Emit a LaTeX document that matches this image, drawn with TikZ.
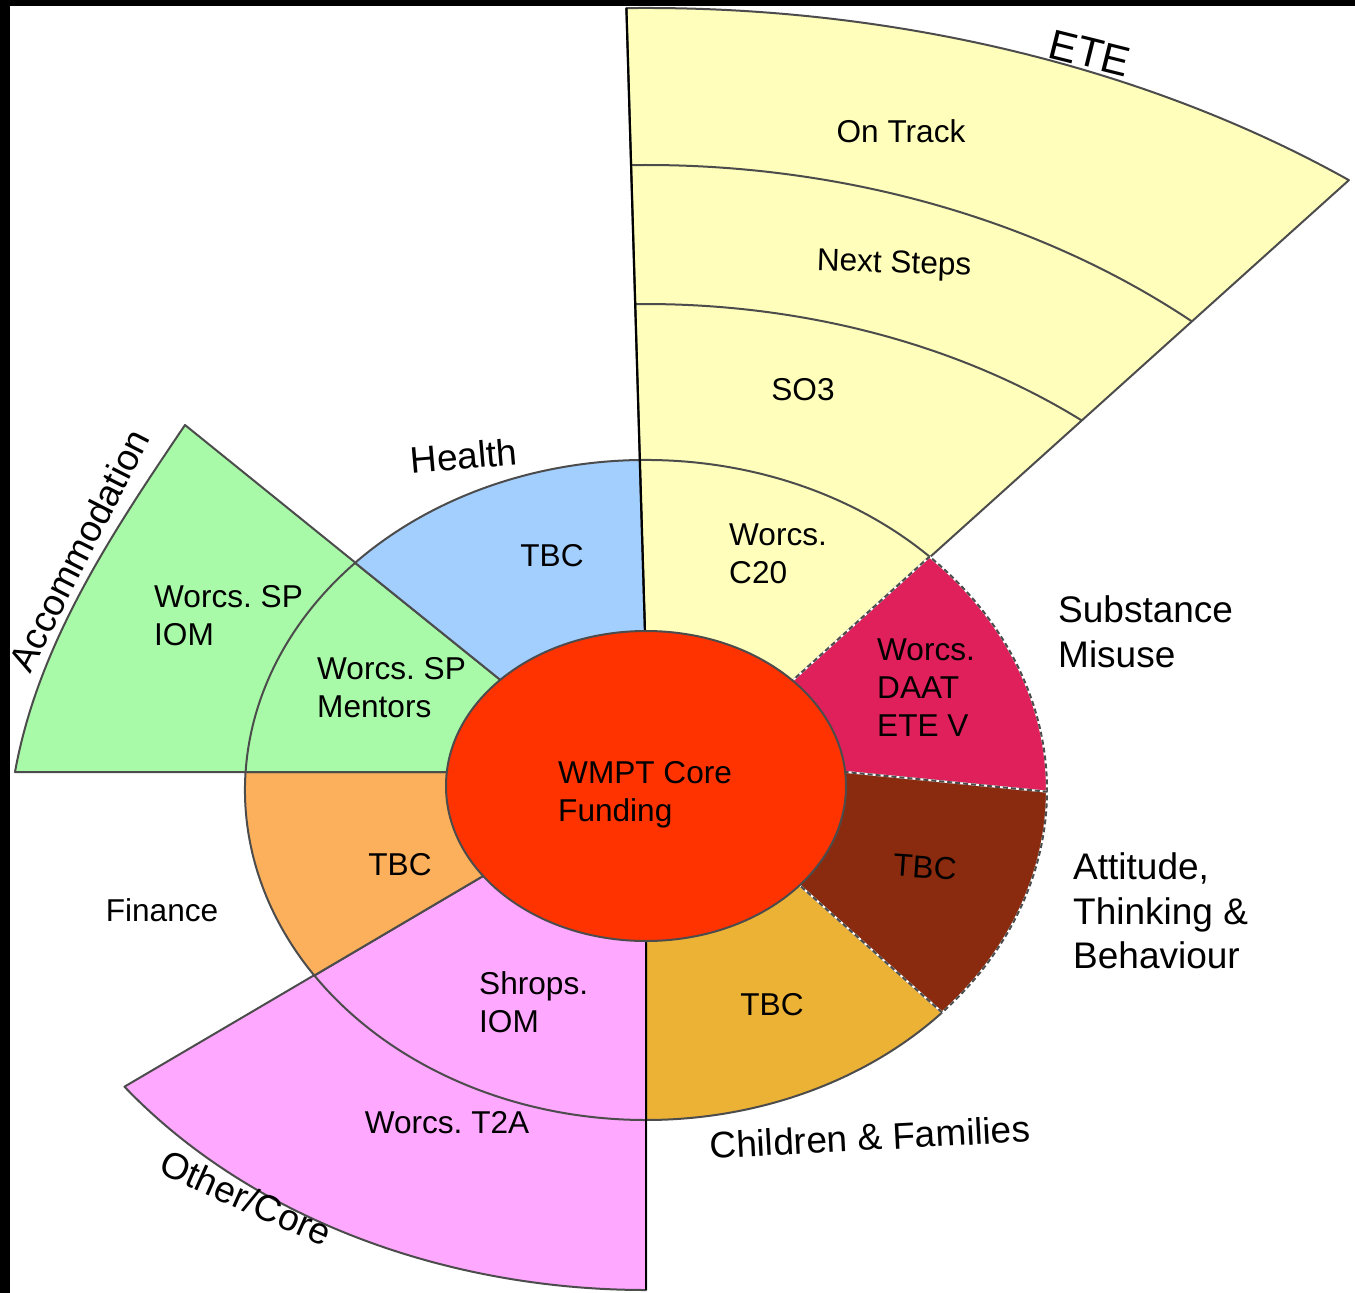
\documentclass[tikz,border=0pt]{standalone}
\usepackage{fontspec}
\setmainfont{Liberation Sans}
\definecolor{eteyellow}{HTML}{FFFFBB}
\definecolor{healthblue}{HTML}{A3CFFF}
\definecolor{accgreen}{HTML}{A8FAA8}
\definecolor{finorange}{HTML}{FCB05C}
\definecolor{otherpink}{HTML}{FFA8FF}
\definecolor{famgold}{HTML}{EBB236}
\definecolor{attbrown}{HTML}{8A2B0F}
\definecolor{substred}{HTML}{DF205B}
\definecolor{corered}{HTML}{FF3300}
\frenchspacing

\begin{document}
\begin{tikzpicture}[
  x=1pt, y=-1pt,
  every node/.style={inner sep=0pt, align=left},
  sector/.style={draw=black!70, line width=2pt, line join=round},
  dashedsector/.style={draw=white, line width=2pt, line join=round,
    postaction={draw=black!70, line width=2pt, dash pattern=on 5pt off 3pt}},
  spoke/.style={draw=black, line width=2.2pt},
  entry/.style={font=\fontsize{31.6}{38}\selectfont},
  theme/.style={font=\fontsize{37}{44.5}\selectfont}
]
\useasboundingbox (0,0) rectangle (1355,1293);
\fill[black] (0,0) rectangle (1355,6);
\fill[black] (0,0) rectangle (10,1293);

\draw[sector, fill=eteyellow] (647,700) -- (626.4,8.1) arc[start angle=269, end angle=308.75, x radius=1123, y radius=782] -- (760,710) -- cycle;
\draw[sector, fill=accgreen] (560,728) -- (185,425) .. controls (112,533) and (38,644) .. (15,772) -- (560,772) -- cycle;
\draw[sector, fill=otherpink] (646,850) -- (646,1290) arc[start angle=90, end angle=143.6, x radius=648, y radius=500] -- (560,830.7) -- cycle;

\draw[sector, fill=eteyellow] (647,700) -- (639.7,460) arc[start angle=-90.9, end angle=-45, x radius=401, y radius=330] -- (760,710) -- cycle;
\draw[sector, fill=famgold] (760,849.8) -- (942.1,1012.5) arc[start angle=42.4, end angle=90, x radius=401, y radius=330] -- (646,850) -- cycle;
\draw[sector, fill=otherpink] (646,850) -- (646,1120) arc[start angle=90, end angle=145.8, x radius=401, y radius=330] -- (560,830.7) -- cycle;
\draw[sector, fill=finorange] (560,830.7) -- (314.3,975.5) arc[start angle=145.8, end angle=183.1, x radius=401, y radius=330] -- (560,772) -- cycle;
\draw[sector, fill=accgreen] (560,772) -- (245.6,772.2) arc[start angle=183.1, end angle=223.5, x radius=401, y radius=330] -- (560,728) -- cycle;
\draw[sector, fill=healthblue] (560,728) -- (355.1,562.8) arc[start angle=223.5, end angle=269.1, x radius=401, y radius=330] -- (647,700) -- cycle;
\draw[dashedsector, fill=substred] (760,710) -- (929.55,556.65) arc[start angle=-45, end angle=0.3, x radius=401, y radius=330] -- (780,765.6) -- cycle;
\draw[dashedsector, fill=attbrown] (780,765.6) -- (1047,791.7) arc[start angle=0.3, end angle=42.4, x radius=401, y radius=330] -- (760,849.8) -- cycle;

\draw[sector] (635,304.1) arc[start angle=269.06, end angle=310.5, x radius=671, y radius=486];
\draw[sector] (630.9,165.1) arc[start angle=268.95, end angle=311.4, x radius=825, y radius=625];
\draw[spoke] (647,700) -- (626.4,8.1);
\draw[spoke] (646,850) -- (646,1290);

\draw[sector, fill=corered] (646,786) ellipse [x radius=200, y radius=155];

\node[entry, anchor=west] (core) at (558,795) {WMPT Core\\Funding};
\node[entry] (ontrack) at (901,131) {On Track};
\node[entry, rotate=-2] (nextsteps) at (894,265) {Next Steps};
\node[entry] (sothree) at (803,390) {SO3};
\node[entry, anchor=west] (ctwenty) at (729,554) {Worcs.\\C20};
\node[entry] (healthtbc) at (552,556) {TBC};
\node[entry, anchor=west] (spiom) at (154,616) {Worcs. SP\\IOM};
\node[entry, anchor=west] (spmentors) at (317,688) {Worcs. SP\\Mentors};
\node[entry] (financetbc) at (400,865) {TBC};
\node[entry] (finance) at (162,910) {Finance};
\node[entry, anchor=west] (shropsiom) at (479,1002) {Shrops.\\IOM};
\node[entry] (ttwoa) at (447,1123) {Worcs. T2A};
\node[entry] (familytbc) at (772,1005) {TBC};
\node[entry, rotate=-4] (attitudetbc) at (925,867) {TBC};
\node[entry, anchor=west] (daat) at (877,688) {Worcs.\\DAAT\\ETE V};

\node[theme, anchor=west] (substance) at (1058,632) {Substance\\Misuse};
\node[theme, anchor=west] (attitude) at (1073,911) {Attitude,\\Thinking \&\\Behaviour};
\node[theme, rotate=5] (health) at (464,456) {Health};
\node[theme, rotate=3] (families) at (870,1137) {Children \& Families};
\node[theme, rotate=-24] (othercore) at (246,1198) {Other/Core};
\node[theme, rotate=63] (accommodation) at (79,550) {Accommodation};
\node[font=\fontsize{42}{50}\selectfont, rotate=-14] (ete) at (1090,53) {ETE};
\end{tikzpicture}
\end{document}
